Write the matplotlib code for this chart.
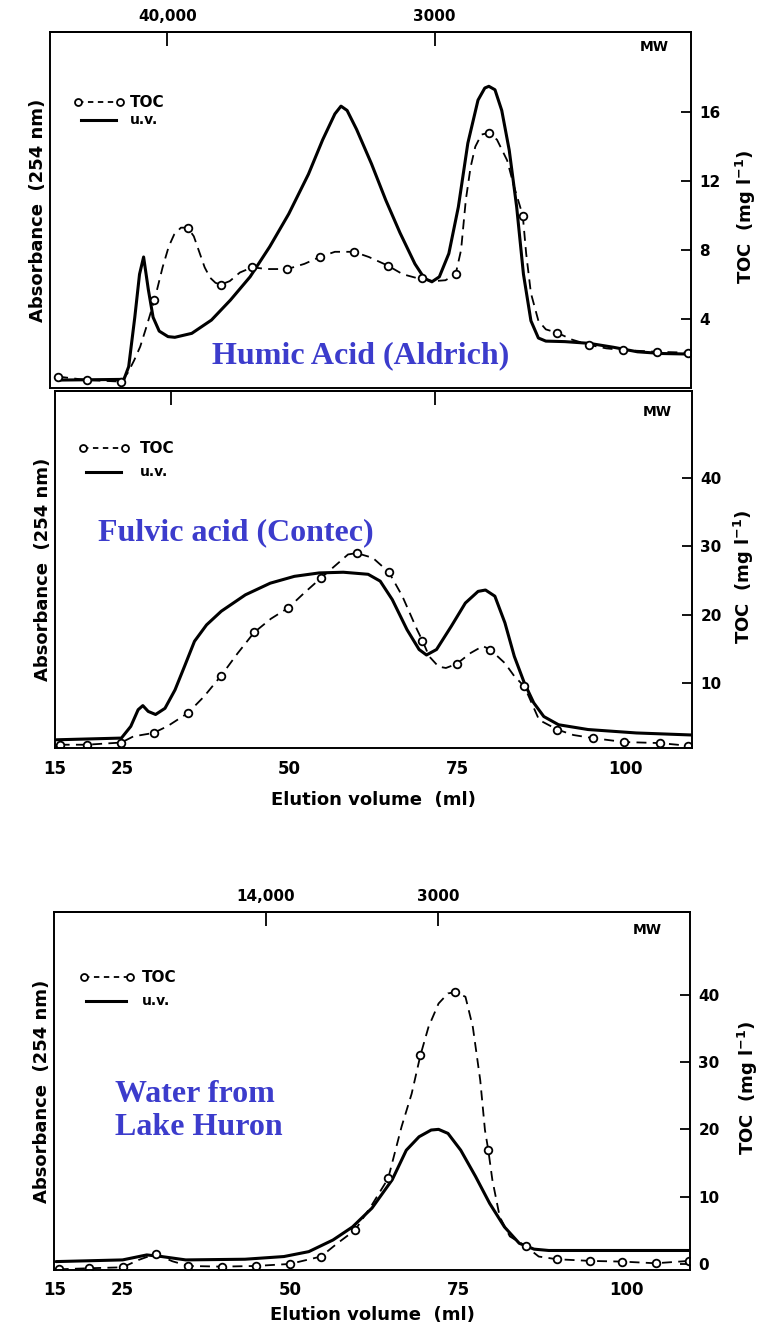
"""
Gel-permeation elution profiles (TOC vs u.v. absorbance) for three
humic samples: Aldrich humic acid, Contec fulvic acid, Lake Huron water.
"""

import matplotlib.pyplot as plt

# ── Data ───────────────────────────────────────────────────────────────────────

# Humic Acid (Aldrich)
hum_toc_ml = [16.2, 20.5, 25.5, 30.4, 35.3, 40.2, 44.8, 50.0, 54.8, 59.8,
              64.8, 69.8, 74.8, 79.7, 84.7, 89.8, 94.5, 99.5, 104.5, 109.1]
hum_toc = [0.66, 0.46, 0.37, 5.1, 9.3, 6.0, 7.0, 6.9, 7.6, 7.9,
           7.1, 6.4, 6.6, 14.8, 10.0, 3.2, 2.5, 2.2, 2.1, 2.05]
hum_toc_line_ml = [16.2, 20.5, 25.5, 26.5, 27.4, 28.3, 29.1, 30.4, 31.6, 32.5,
                   33.3, 34.3, 35.3, 36.2, 37.0, 37.8, 38.6, 39.4, 40.2, 41.5,
                   43.0, 44.8, 47.0, 50.0, 52.5, 54.8, 57.0, 59.8, 62.0, 64.8,
                   67.0, 69.8, 71.6, 73.3, 74.8, 75.6, 76.3, 77.0, 77.7, 78.6,
                   79.7, 80.9, 82.4, 83.4, 84.7, 85.2, 85.9, 87.0, 88.1, 89.8,
                   92.0, 94.5, 97.0, 99.5, 104.5, 109.1]
hum_toc_line = [0.66, 0.46, 0.37, 0.9, 1.6, 2.4, 3.4, 5.1, 7.0, 8.2,
                8.9, 9.3, 9.3, 8.8, 7.9, 7.0, 6.4, 6.1, 6.0, 6.2,
                6.7, 7.0, 6.9, 6.9, 7.2, 7.6, 7.9, 7.9, 7.6, 7.1,
                6.6, 6.3, 6.2, 6.25, 6.6, 8.0, 10.9, 12.8, 14.0, 14.7,
                14.8, 14.4, 13.2, 11.7, 10.0, 7.8, 5.5, 3.9, 3.4, 3.2,
                2.8, 2.5, 2.3, 2.2, 2.1, 2.05]
hum_uv_ml = [16.3, 25.9, 26.6, 27.5, 28.2, 28.8, 29.5, 30.2, 31.1, 32.4,
             33.4, 35.9, 38.8, 41.6, 44.5, 47.4, 50.2, 53.1, 55.2, 57.0,
             57.9, 58.8, 60.2, 62.4, 64.5, 66.6, 68.8, 70.2, 71.3, 72.4,
             73.8, 75.2, 76.6, 78.1, 79.1, 79.7, 80.6, 81.6, 82.7, 83.8,
             84.8, 85.9, 87.0, 88.1, 90.9, 94.5, 98.1, 101.6, 105.2, 109.1]
hum_uv = [0.46, 0.5, 1.24, 4.1, 6.6, 7.6, 5.7, 4.1, 3.3, 2.98,
          2.94, 3.17, 3.94, 5.1, 6.45, 8.2, 10.1, 12.4, 14.4, 15.9,
          16.35, 16.1, 15.0, 13.0, 10.9, 9.0, 7.2, 6.36, 6.16, 6.45,
          7.8, 10.5, 14.2, 16.7, 17.4, 17.5, 17.3, 16.1, 13.8, 10.5,
          6.6, 3.9, 2.9, 2.72, 2.69, 2.59, 2.36, 2.1, 2.0, 1.97]

# Fulvic acid (Contec)
ful_toc_ml = [15.7, 19.75, 24.9, 29.7, 34.8, 39.8, 44.7, 49.8, 54.6, 60.0,
              64.8, 69.8, 74.9, 79.9, 85.0, 89.9, 95.2, 99.9, 105.2, 109.4]
ful_toc = [0.98, 0.98, 1.3, 2.7, 5.6, 11.1, 17.4, 21.0, 25.3, 29.0,
           26.2, 16.2, 12.8, 14.9, 9.5, 3.2, 1.95, 1.37, 1.22, 0.83]
ful_toc_line_ml = [15.7, 19.75, 24.9, 26.7, 29.7, 31.8, 34.8, 37.2, 39.8, 42.2,
                   44.7, 47.2, 49.8, 52.2, 54.6, 57.3, 58.7, 60.0, 62.4, 64.8,
                   66.8, 69.0, 69.8, 70.8, 72.2, 73.3, 74.9, 77.0, 78.8, 79.9,
                   82.1, 83.5, 85.0, 87.2, 89.9, 92.3, 95.2, 99.9, 105.2, 109.4]
ful_toc_line = [0.98, 0.98, 1.3, 2.2, 2.7, 3.7, 5.6, 8.0, 11.1, 14.3,
                17.4, 19.4, 21.0, 23.2, 25.3, 27.6, 28.8, 29.0, 28.3, 26.2,
                22.7, 17.8, 16.2, 13.9, 12.4, 12.2, 12.8, 14.4, 15.4, 14.9,
                12.9, 11.0, 9.5, 4.6, 3.2, 2.4, 1.95, 1.37, 1.22, 0.83]
ful_uv_ml = [15.2, 24.9, 26.3, 27.4, 28.1, 28.9, 30.0, 31.4, 32.9, 34.3,
             35.8, 37.6, 39.8, 43.4, 47.1, 50.7, 54.4, 58.0, 61.7, 63.5,
             65.3, 67.5, 69.3, 70.4, 71.9, 74.1, 76.2, 78.1, 79.2, 80.6,
             82.1, 83.5, 85.0, 86.4, 87.9, 90.1, 94.5, 101.7, 110.0]
ful_uv = [1.7, 1.95, 3.66, 6.1, 6.7, 5.85, 5.4, 6.3, 9.0, 12.4,
          16.1, 18.5, 20.5, 22.9, 24.6, 25.6, 26.1, 26.2, 25.9, 24.9,
          22.2, 17.8, 14.9, 14.1, 14.9, 18.3, 21.7, 23.4, 23.6, 22.7,
          18.8, 13.9, 10.0, 7.1, 5.1, 3.9, 3.2, 2.7, 2.4]

# Water from Lake Huron
hur_toc_ml = [15.6, 20.1, 25.1, 30.0, 34.9, 39.9, 44.9, 50.0, 54.6, 59.7,
              64.6, 69.4, 74.6, 79.5, 85.1, 89.7, 94.7, 99.4, 104.4, 109.3]
hur_toc = [-0.8, -0.64, -0.5, 1.5, -0.3, -0.4, -0.3, 0.0, 1.1, 5.05,
           12.7, 31.0, 40.4, 16.9, 2.6, 0.7, 0.45, 0.35, 0.1, 0.45]
hur_toc_line_ml = [15.6, 20.1, 25.1, 27.5, 30.0, 32.5, 34.9, 39.9, 44.9, 50.0,
                   54.6, 57.1, 59.7, 62.2, 64.6, 66.6, 68.1, 69.4, 70.6, 72.1,
                   73.5, 74.6, 76.1, 77.2, 78.3, 79.0, 79.5, 80.1, 81.2, 82.7,
                   85.1, 87.0, 89.7, 94.7, 99.4, 104.4, 109.3]
hur_toc_line = [-0.8, -0.64, -0.5, 0.6, 1.5, 0.4, -0.3, -0.4, -0.3, 0.0,
                1.1, 3.1, 5.05, 8.8, 12.7, 20.4, 25.3, 31.0, 35.2, 38.7,
                40.2, 40.4, 39.7, 35.2, 27.3, 19.9, 16.9, 12.5, 7.0, 4.1,
                2.6, 1.1, 0.7, 0.45, 0.35, 0.1, 0.45]
hur_uv_ml = [15.2, 25.1, 28.7, 30.9, 34.5, 43.3, 49.1, 52.8, 56.4, 59.3,
             62.2, 65.2, 67.3, 69.2, 71.0, 72.1, 73.5, 75.4, 77.6, 79.7,
             81.9, 84.1, 86.3, 88.5, 109.5]
hur_uv = [0.35, 0.6, 1.34, 1.1, 0.6, 0.7, 1.1, 1.83, 3.56, 5.5,
          8.3, 12.5, 16.9, 18.9, 19.9, 20.0, 19.4, 16.9, 13.0, 9.0,
          5.5, 3.07, 2.2, 2.0, 2.0]

# Axis ticks and labels
x_ticks = [15, 25, 50, 75, 100]
x_tick_labels = ["15", "25", "50", "75", "100"]
hum_toc_ticks = [4, 8, 12, 16]
ful_toc_ticks = [10, 20, 30, 40]
hur_toc_ticks = [0, 10, 20, 30, 40]
hum_mw_ml = [32.3, 71.7]
hum_mw_labels = ["40,000", "3000"]
hur_mw_ml = [46.4, 72.0]
hur_mw_labels = ["14,000", "3000"]

BLUE = "#3c3ccc"
FONT = "DejaVu Sans"
SERIF = "Liberation Serif"


# ── Helpers ────────────────────────────────────────────────────────────────────

def draw_panel(ax, toc_ml, toc, line_ml, line, uv_ml, uv, xlim, ylim, yticks):
    ax.plot(uv_ml, uv, color="black", lw=2.2, solid_capstyle="round",
            solid_joinstyle="round")
    ax.plot(line_ml, line, color="black", lw=1.3, ls=(0, (5.5, 3.5)))
    ax.plot(toc_ml, toc, ls="none", marker="o", ms=5.5, mfc="white",
            mec="black", mew=1.3)
    ax.set_xlim(*xlim)
    ax.set_ylim(*ylim)

    for sp in ax.spines.values():
        sp.set_linewidth(1.4)

    ax.yaxis.tick_right()
    ax.set_yticks(yticks)
    ax.tick_params(axis="y", direction="in", length=7, width=1.3, pad=6,
                   labelsize=11)
    for lbl in ax.get_yticklabels():
        lbl.set_fontweight("bold")

    ax.set_xticks(x_ticks)
    ax.set_xticks([50, 75], minor=True)
    ax.tick_params(axis="x", which="major", length=0, pad=9, labelsize=12)
    ax.tick_params(axis="x", which="minor", direction="in", length=9, width=1.3)

    ax.text(-0.019, 0.5, "Absorbance  (254 nm)", transform=ax.transAxes,
            rotation=90, ha="center", va="center", fontsize=13,
            fontweight="bold", family=FONT)


def add_mw_axis(ax, ticks, labels):
    sec = ax.secondary_xaxis("top")
    sec.set_xticks(ticks)
    sec.set_xticklabels(labels)
    sec.tick_params(direction="in", length=10, width=1.3, pad=6, labelsize=11)
    for lbl in sec.get_xticklabels():
        lbl.set_fontweight("bold")
    sec.spines["top"].set_linewidth(1.4)
    return sec


def add_legend(ax, x0, x1, xt, y_toc, y_uv):
    ax.plot([x0, x1], [y_toc, y_toc], transform=ax.transAxes, color="black",
            lw=1.3, ls=(0, (3, 2.5)), marker="o", ms=5, mfc="white",
            mec="black", mew=1.3, clip_on=False)
    ax.plot([x0 + 0.004, x1 - 0.006], [y_uv, y_uv], transform=ax.transAxes,
            color="black", lw=2.2, clip_on=False)
    ax.text(xt, y_toc, "TOC", transform=ax.transAxes, va="center",
            fontsize=11, fontweight="bold")
    ax.text(xt, y_uv, "u.v.", transform=ax.transAxes, va="center",
            fontsize=10, fontweight="bold")


def add_right_label(ax, x, y):
    ax.text(x, y, "TOC  (mg l$^{-1}$)", transform=ax.transAxes, rotation=90,
            ha="center", va="center", fontsize=13, fontweight="bold")


def add_mw_text(ax, x, y):
    ax.text(x, y, "MW", transform=ax.transAxes, ha="center", va="center",
            fontsize=10, fontweight="bold")


# ── Figure ─────────────────────────────────────────────────────────────────────

plt.rcParams["font.family"] = [FONT]
plt.rcParams["mathtext.default"] = "bf"

fig = plt.figure(figsize=(7.65, 13.3), dpi=100)
W, H = 765, 1330

ax_hum = fig.add_axes([50 / W, 1 - 388 / H, 641 / W, 356 / H])
ax_ful = fig.add_axes([55 / W, 1 - 748 / H, 637 / W, 357 / H])
ax_hur = fig.add_axes([54 / W, 1 - 1270 / H, 636 / W, 358 / H])

# top panel
draw_panel(ax_hum, hum_toc_ml, hum_toc, hum_toc_line_ml, hum_toc_line,
           hum_uv_ml, hum_uv, (16.1, 109.5), (0, 20.65), hum_toc_ticks)
ax_hum.set_xticks([50, 75, 100], minor=True)
ax_hum.tick_params(axis="x", which="both", labelbottom=False)
add_mw_axis(ax_hum, hum_mw_ml, hum_mw_labels)
add_legend(ax_hum, 0.044, 0.109, 0.125, 0.803, 0.753)
add_right_label(ax_hum, 1.086, 0.48)
add_mw_text(ax_hum, 0.942, 0.958)
ax_hum.text(0.484, 0.09, "Humic Acid (Aldrich)", transform=ax_hum.transAxes,
            ha="center", va="center", fontsize=23, fontweight="bold",
            family=SERIF, color=BLUE)

# middle panel
draw_panel(ax_ful, ful_toc_ml, ful_toc, ful_toc_line_ml, ful_toc_line,
           ful_uv_ml, ful_uv, (15.2, 110.0), (0.5, 52.7), ful_toc_ticks)
ax_ful.set_xticklabels(x_tick_labels, fontweight="bold")
add_mw_axis(ax_ful, hum_mw_ml, ["", ""])
add_legend(ax_ful, 0.044, 0.110, 0.133, 0.840, 0.773)
add_right_label(ax_ful, 1.082, 0.48)
add_mw_text(ax_ful, 0.945, 0.941)
ax_ful.text(0.0675, 0.602, "Fulvic acid (Contec)", transform=ax_ful.transAxes,
            ha="left", va="center", fontsize=23, fontweight="bold",
            family=SERIF, color=BLUE)
ax_ful.set_xlabel("Elution volume  (ml)", fontsize=13, fontweight="bold",
                  labelpad=9)

# bottom panel
draw_panel(ax_hur, hur_toc_ml, hur_toc, hur_toc_line_ml, hur_toc_line,
           hur_uv_ml, hur_uv, (14.9, 109.5), (-0.9, 52.3), hur_toc_ticks)
ax_hur.set_xticklabels(x_tick_labels, fontweight="bold")
ax_hur.tick_params(axis="x", which="major", pad=8)
add_mw_axis(ax_hur, hur_mw_ml, hur_mw_labels)
add_legend(ax_hur, 0.047, 0.119, 0.138, 0.818, 0.751)
add_right_label(ax_hur, 1.091, 0.51)
add_mw_text(ax_hur, 0.932, 0.950)
ax_hur.text(0.096, 0.444, "Water from\nLake Huron", transform=ax_hur.transAxes,
            ha="left", va="center", fontsize=23, fontweight="bold",
            family=SERIF, color=BLUE, linespacing=1.15)
ax_hur.set_xlabel("Elution volume  (ml)", fontsize=13, fontweight="bold",
                  labelpad=5)

fig.savefig("out.png", dpi=100, facecolor="white")
